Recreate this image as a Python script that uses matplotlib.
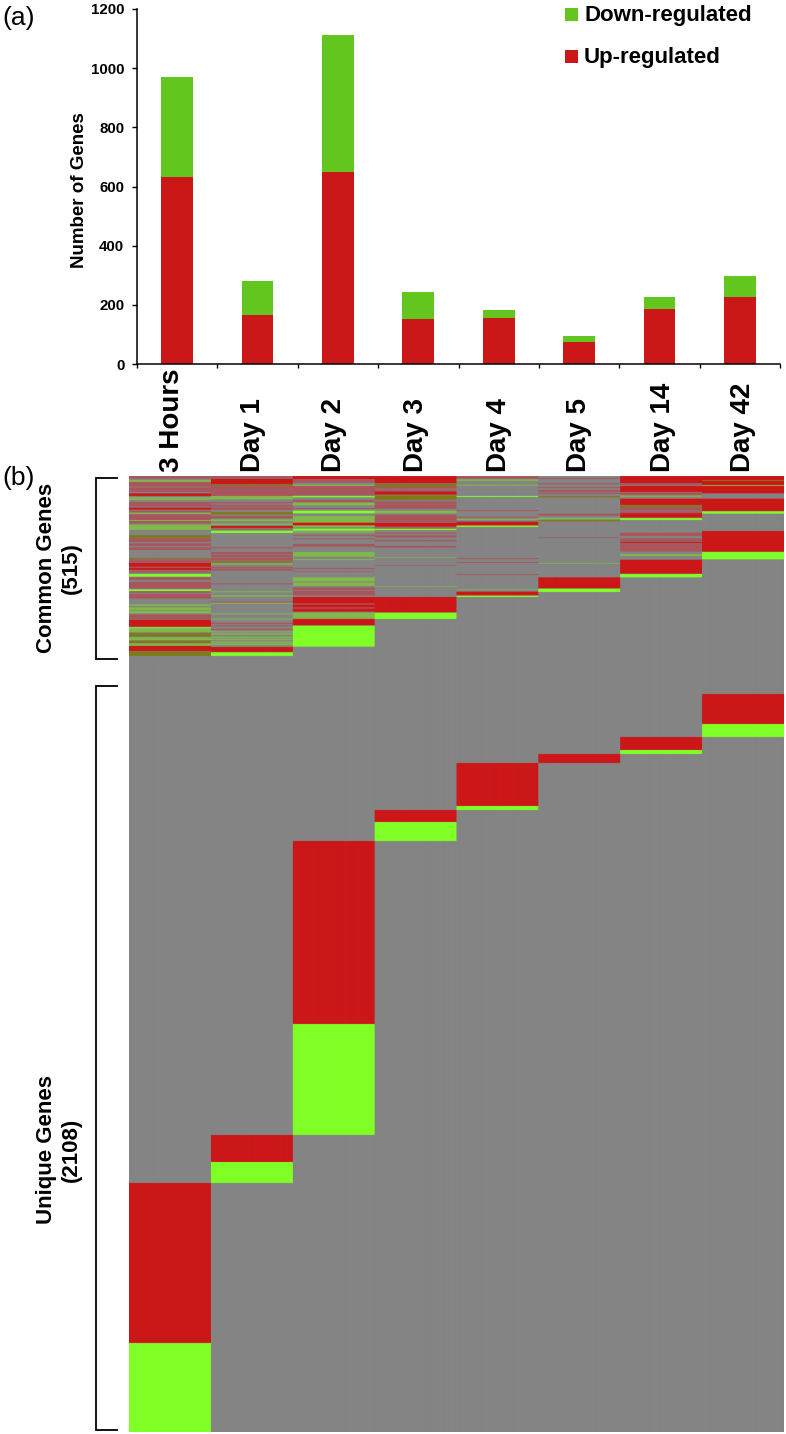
import numpy as np
import matplotlib
matplotlib.use("Agg")
import matplotlib.pyplot as plt
from matplotlib.colors import ListedColormap
from matplotlib.lines import Line2D
from matplotlib.patches import Rectangle

plt.rcParams['font.family'] = ['Liberation Sans', 'DejaVu Sans']

categories = ["3 Hours", "Day 1", "Day 2", "Day 3", "Day 4", "Day 5", "Day 14", "Day 42"]
up_regulated = [632, 165, 650, 152, 155, 75, 187, 227]
down_regulated = [338, 115, 463, 90, 27, 20, 38, 71]

# heat-map stripes per time point: (first row, last row, state)
# states: 0 none, 1 up, 2 down, 3 mixed up, 4 mixed down, 5 olive
col_3h = [(18,26,3),(30,36,4),(36,50,3),(52,66,3),(70,78,1),(82,90,4),(96,110,3),(113,119,1),(122,127,3),
          (128,132,4),(133,150,3),(150,153,4),(153,160,3),(164,180,4),(195,204,5),(205,216,3),(220,228,3),
          (232,240,3),(264,267,5),(268,276,3),(278,290,1),(290,294,3),(294,300,1),(302,308,3),(312,320,2),
          (322,330,3),(336,356,3),(358,363,2),(364,368,3),(372,386,3),(403,408,4),(412,420,4),(422,430,4),
          (433,447,3),(449,470,1),(472,475,2),(476,486,4),(489,500,5),(502,510,4),(512,520,5),(520,527,4),
          (528,543,1),(544,558,5),(2139,2619,1),(2619,2886,2)]
col_d1 = [(18,24,3),(26,42,1),(42,46,5),(46,60,3),(60,70,3),(70,78,3),(78,88,4),(96,100,3),(104,110,3),
          (112,120,3),(126,134,5),(138,145,3),(148,154,4),(160,165,4),(168,174,1),(176,179,3),(182,189,2),
          (232,235,3),(246,252,3),(254,262,3),(264,272,3),(274,278,5),(280,284,4),(290,294,3),(296,302,3),
          (340,343,3),(364,367,4),(376,380,4),(394,397,3),(399,402,4),(430,433,4),(446,449,4),(458,462,3),
          (466,469,3),(476,480,3),(484,487,4),(490,494,4),(500,504,4),(506,510,4),(514,518,4),(520,525,4),
          (531,546,1),(547,558,2),(1995,2076,1),(2076,2139,2)]
col_d2 = [(18,28,1),(30,38,3),(44,48,4),(48,76,3),(78,82,2),(90,97,3),(97,106,4),(114,117,3),(122,130,2),
          (138,158,4),(158,166,1),(166,172,4),(176,182,2),(184,188,4),(195,198,3),(205,208,3),(222,230,3),
          (246,260,4),(267,270,4),(294,297,3),(304,306,3),(322,335,4),(338,348,4),(352,360,3),(362,376,3),
          (381,400,1),(400,404,3),(404,412,1),(412,416,3),(416,425,1),(428,446,4),(447,466,1),(467,530,2),
          (1113,1662,1),(1662,1995,2)]
col_d3 = [(18,40,1),(42,50,5),(50,56,3),(58,62,3),(64,74,1),(76,90,5),(94,102,3),(103,116,3),(122,130,4),
          (134,156,3),(158,170,1),(172,176,3),(176,180,2),(188,192,3),(196,202,3),(210,214,3),(228,233,3),
          (262,264,4),(286,288,3),(349,351,4),(381,427,1),(428,447,2),(1020,1056,1),(1056,1113,2)]
col_d4 = [(18,22,3),(22,26,3),(28,33,4),(44,47,4),(78,81,2),(120,123,3),(140,143,3),(147,150,4),(155,166,1),
          (167,171,2),(264,267,3),(276,279,3),(312,315,3),(357,359,4),(365,376,1),(377,381,2),
          (879,1008,1),(1008,1020,2)]
col_d5 = [(24,27,3),(40,43,3),(51,54,3),(60,66,3),(68,72,3),(78,82,5),(131,137,3),(143,148,4),(150,154,5),
          (202,204,3),(280,282,4),(322,355,1),(356,366,2),(852,879,1)]
col_d14 = [(18,40,1),(42,46,3),(48,66,1),(68,76,3),(76,80,4),(86,105,1),(106,112,5),(112,122,3),(124,130,3),
           (130,143,1),(144,150,2),(188,198,3),(205,215,3),(216,220,1),(222,245,3),(252,258,4),(269,311,1),
           (312,322,2),(801,840,1),(840,852,2)]
col_d42 = [(18,30,1),(30,33,5),(33,45,1),(45,48,4),(48,70,1),(86,123,1),(124,131,2),(183,245,1),(246,268,2),
           (672,762,1),(762,801,2)]
columns = [col_3h, col_d1, col_d2, col_d3, col_d4, col_d5, col_d14, col_d42]

W, H = 786, 1434
fig = plt.figure(figsize=(W/100, H/100), dpi=100)

def ax_px(x0, y0, x1, y1):
    return fig.add_axes([x0/W, 1-y1/H, (x1-x0)/W, (y1-y0)/H])

def fx(x): return x/W
def fy(y): return 1-y/H

# (a)
ax = ax_px(137, 9, 780, 364)
x = np.arange(len(categories))
ax.bar(x, up_regulated, width=0.395, color="#CC1719")
ax.bar(x, down_regulated, width=0.395, bottom=up_regulated, color="#62C61E")
ax.set_xlim(-0.5, 7.5)
ax.set_ylim(0, 1200)
ax.set_yticks(range(0, 1201, 200))
ax.set_xticks(np.arange(-0.5, 8, 1))
ax.set_xticklabels([])
ax.tick_params(axis='y', length=3.6, width=1.0, labelsize=10.8, pad=5.5, direction='out')
ax.tick_params(axis='x', length=2.8, width=1.0, direction='out')
for t in ax.get_yticklabels():
    t.set_fontweight('bold')
for s in ('top', 'right'):
    ax.spines[s].set_visible(False)
for s in ('left', 'bottom'):
    ax.spines[s].set_linewidth(1.1)
ax.patch.set_alpha(0)
fig.text(fx(79), fy(190), "Number of Genes", rotation=90, ha='center', va='center',
         fontsize=13.5, fontweight='bold')

label_shift = [-0.06, -0.06, -0.05, -0.03, 0, 0, 0.04, 0.04]
for xi, dx, label in zip(x, label_shift, categories):
    ax.text(xi + dx, (364 - 472) / 355, label, transform=ax.get_xaxis_transform(), rotation=90,
            ha='center', va='bottom', fontsize=20, fontweight='bold', clip_on=False, zorder=5)

# legend
for yc, colr, lab in [(14.5, "#62C61E", "Down-regulated"), (56.5, "#CC1719", "Up-regulated")]:
    fig.add_artist(Rectangle((fx(565), fy(yc+6.5)), 13/W, 13/H, transform=fig.transFigure, color=colr, lw=0))
    fig.text(fx(584), fy(yc+0.5), lab, ha='left', va='center', fontsize=16, fontweight='bold')

# (b)
n_rows = 2886
M = np.zeros((n_rows, len(columns)), dtype=int)
for j, col in enumerate(columns):
    for a, b, s in col:
        M[a:b, j] = s
cmap = ListedColormap(["#848484", "#CC1719", "#80FF26", "#A8565C", "#82B84A", "#7F7A1C"])
hm = ax_px(129, 476, 784, 1432)
hm.imshow(np.repeat(M, 82, axis=1), aspect='auto', cmap=cmap, vmin=0, vmax=5, interpolation='hanning',
          interpolation_stage='rgba', extent=(0, 8, n_rows, 0))
hm.set_ylim(n_rows, 18)
hm.axis('off')

# brackets
for y0, y1 in [(478, 659), (686, 1430)]:
    fig.add_artist(Line2D([fx(117), fx(96), fx(96), fx(117)], [fy(y0), fy(y0), fy(y1), fy(y1)],
                          transform=fig.transFigure, color='black', lw=1.3, solid_joinstyle='miter'))
fig.text(fx(59), fy(568), "Common Genes\n(515)", rotation=90, ha='center', va='center',
         fontsize=16, fontweight='bold', linespacing=1.2)
fig.text(fx(59), fy(1150), "Unique Genes\n(2108)", rotation=90, ha='center', va='center',
         fontsize=16, fontweight='bold', linespacing=1.2)

fig.text(2/W, fy(18), "(a)", ha='left', va='center', fontsize=19)
fig.text(2/W, fy(478), "(b)", ha='left', va='center', fontsize=19)

fig.savefig("out.png", dpi=100)
